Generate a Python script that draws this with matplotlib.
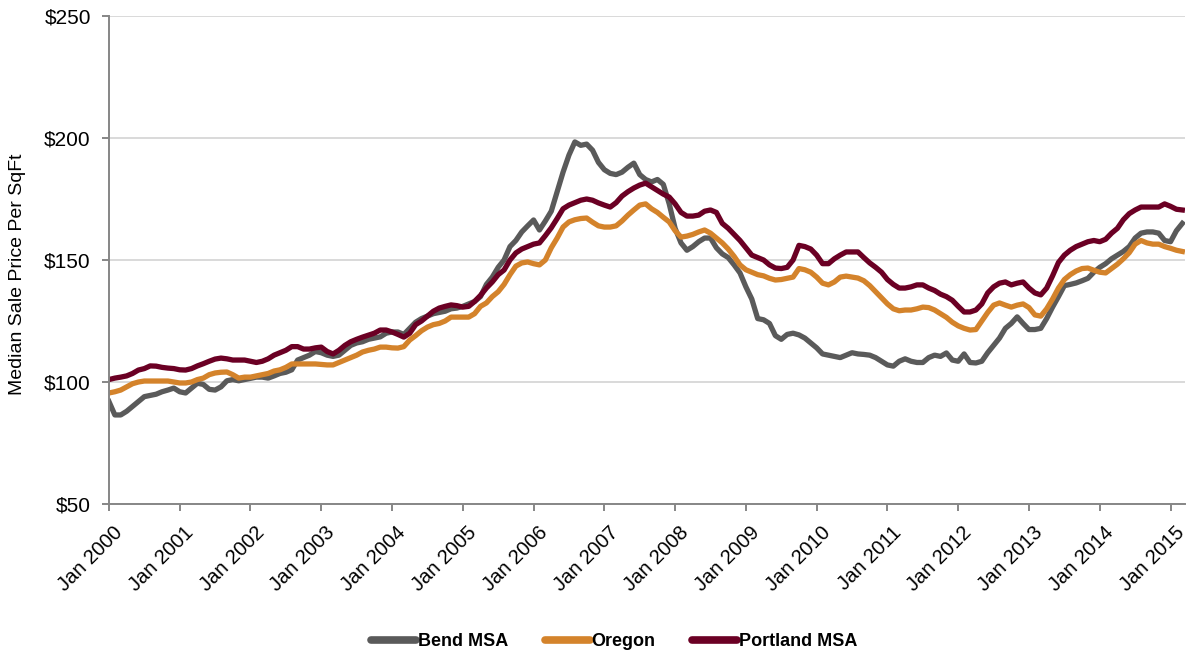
import numpy as np
import matplotlib
matplotlib.use("Agg")
import matplotlib.pyplot as plt
import matplotlib.transforms as mtransforms

# monthly median sale price per sq ft, Jan 2000 - Mar 2015
bend = [
    92, 86.5, 86.5, 88, 90, 92, 94, 94.5, 95, 96, 96.7, 97.5,
    96, 95.5, 97.5, 99.5, 99, 97, 96.7, 98, 100.5, 101, 100.5, 101,
    101.5, 102, 102, 101.6, 102.5, 103.5, 104, 105, 109, 110, 111, 112.5,
    112, 111, 110.5, 111, 113, 115, 116, 116.5, 117.5, 118, 118.5, 120,
    120.5, 120.5, 119.5, 122, 124.5, 126, 127, 128, 128.5, 129, 130, 130.3,
    131, 132, 133, 135, 140, 143, 147, 150, 155.5, 158, 161.5, 164,
    166.4, 162.3, 166, 170, 178, 186, 193, 198.4, 197, 197.5, 195, 190,
    187, 185.5, 185, 186, 188, 189.7, 185, 183, 182, 183, 181, 173,
    163, 157, 154, 155.5, 157.5, 159, 159, 155, 152.5, 151, 148, 144.7,
    139, 134, 126, 125.5, 124, 119, 117.5, 119.5, 120, 119.3, 118, 116,
    114, 111.5, 111, 110.5, 110, 111, 112, 111.5, 111.3, 111, 110, 108.5,
    107, 106.5, 108.5, 109.5, 108.5, 108, 108, 110, 111, 110.5, 111.9, 109,
    108.5, 111.5, 108, 107.8, 108.5, 112, 115, 118, 122, 124, 126.7, 124,
    121.5, 121.5, 122, 126, 130.7, 135, 139.5, 140, 140.6, 141.5, 142.5, 145,
    147, 148.5, 150.5, 152, 153.5, 155.5, 159, 161, 161.5, 161.5, 161, 158,
    157.5, 162, 165,
]
oregon = [
    95.5, 96, 96.7, 98, 99.3, 100, 100.4, 100.4, 100.4, 100.4, 100.4, 100,
    99.6, 99.6, 100, 101, 101.6, 103, 103.7, 104, 104.1, 103, 101.6, 102,
    102, 102.5, 103, 103.5, 104.5, 105, 106, 107.4, 107.4, 107.4, 107.4, 107.4,
    107.2, 107, 107, 108, 109, 110, 111, 112.3, 113, 113.5, 114.3, 114.3,
    114, 113.9, 114.5, 117.2, 119, 121, 122.5, 123.5, 124, 125, 126.6, 126.6,
    126.6, 126.6, 128, 131, 132.4, 135, 137, 140, 144, 147.5, 148.8, 149.2,
    148.5, 148, 150, 155, 159, 163.5, 165.6, 166.5, 167, 167.2, 165.5, 164,
    163.5, 163.5, 164, 166, 168.4, 170.5, 172.5, 173, 171, 169.5, 167.5, 165.6,
    162, 159.4, 159.8, 160.5, 161.5, 162.3, 161, 159, 157, 154.5, 151.5, 148,
    146, 145, 144, 143.5, 142.5, 141.8, 142, 142.5, 143, 146.5, 146, 145,
    143, 140.5, 139.8, 141, 143, 143.4, 143, 142.6, 141.5, 139.5, 137, 134.5,
    132, 130, 129.2, 129.5, 129.5, 130, 130.7, 130.5, 129.5, 128, 126.5, 124.5,
    123, 122, 121.3, 121.5, 125, 128.5, 131.5, 132.4, 131.5, 130.7, 131.5, 132,
    130.5, 127.5, 127, 130, 134, 138.5, 142, 144, 145.5, 146.5, 146.7, 145.8,
    145, 144.7, 146.5, 148.3, 150.5, 153, 156.5, 158, 157, 156.5, 156.5, 155.5,
    154.8, 154, 153.5,
]
portland = [
    101, 101.6, 102, 102.5, 103.5, 104.9, 105.5, 106.6, 106.5, 106, 105.7, 105.5,
    105, 104.9, 105.5, 106.6, 107.5, 108.5, 109.4, 109.8, 109.5, 109, 109, 109,
    108.5, 108, 108.5, 109.5, 111, 112, 113, 114.5, 114.5, 113.5, 113.5, 114,
    114.3, 112.5, 111.5, 113, 115, 116.5, 117.5, 118.4, 119.2, 120, 121.3, 121.3,
    120.5, 119.5, 118.4, 120, 123.5, 125, 127, 129, 130.3, 131, 131.6, 131.3,
    130.7, 131, 133, 135.5, 138.5, 141, 144, 145.9, 150, 152.9, 154.5, 155.5,
    156.5, 157, 160, 163.2, 167, 171, 172.5, 173.5, 174.5, 175, 174.5, 173.4,
    172.5, 171.7, 173.5, 176.2, 178, 179.5, 180.7, 181.5, 180, 178.5, 177, 175.8,
    173, 169.5, 168, 168, 168.4, 170, 170.5, 169.5, 165, 163, 160.5, 158,
    155, 152, 151, 150, 148, 146.7, 146.5, 147, 150, 156, 155.5, 154.5,
    152, 148.5, 148.5, 150.5, 152, 153.3, 153.3, 153.3, 151, 148.8, 147, 145,
    142, 140, 138.5, 138.5, 139, 139.8, 139.8, 138.5, 137.5, 136, 135, 133.5,
    131, 128.7, 128.7, 129.5, 132, 136.5, 139, 140.5, 141, 139.8, 140.5, 141,
    138.5, 136.5, 135.7, 138.5, 143.5, 149, 152, 154, 155.5, 156.5, 157.5, 158,
    157.5, 158.5, 161, 163, 166.5, 169, 170.5, 171.7, 171.7, 171.7, 171.7, 173,
    172, 170.8, 170.5,
]
series_names = ["Bend MSA", "Oregon", "Portland MSA"]
years = list(range(2000, 2016))
tick_labels = ["Jan %d" % y for y in years]
y_ticks = [50, 100, 150, 200, 250]

colors = ["#5a5a5a", "#d4832b", "#6b0024"]

plt.rcParams["font.family"] = ["Liberation Sans", "DejaVu Sans"]

fig = plt.figure(figsize=(11.88, 6.56), dpi=100)
ax = fig.add_axes([0.0917, 0.2317, 0.906, 0.7439])

x = np.arange(len(bend))
for vals, name, c in zip([bend, oregon, portland], series_names, colors):
    ax.plot(x, vals, color=c, lw=3.8, label=name, solid_joinstyle="round")

ax.set_xlim(0, len(bend) - 0.5)
ax.set_ylim(50, 250)
ax.set_yticks(y_ticks)
ax.set_yticklabels(["$%d" % v for v in y_ticks], fontsize=15)
ax.set_xticks([12 * i for i in range(len(years))])
ax.set_xticklabels(tick_labels, rotation=45, ha="right", rotation_mode="anchor",
                   fontsize=14.5)

ax.yaxis.grid(True, color="#d9d9d9", lw=1.4)
ax.set_axisbelow(True)
for s in ["top", "right"]:
    ax.spines[s].set_visible(False)
for s in ["left", "bottom"]:
    ax.spines[s].set_color("#868686")
    ax.spines[s].set_linewidth(1.4)
ax.tick_params(axis="both", color="#868686", length=5, width=1.4, colors="black")
ax.tick_params(axis="x", pad=5)
ax.tick_params(axis="y", pad=8)

# shift rotated labels so their end sits just right of / below the tick
shift = mtransforms.ScaledTranslation(0.04, -0.05, fig.dpi_scale_trans)
for lab in ax.get_xticklabels():
    lab.set_transform(lab.get_transform() + shift)

ax.set_ylabel("Median Sale Price Per SqFt", fontsize=14)
ax.yaxis.set_label_coords(-0.077, 0.47)

leg = fig.legend(loc="center", bbox_to_anchor=(0.517, 0.022), ncol=3,
                 frameon=False, handlelength=2.5, handletextpad=0.1,
                 columnspacing=2.0, prop={"weight": "bold", "size": 13})
for line in leg.get_lines():
    line.set_linewidth(5.5)
    line.set_solid_capstyle("round")

fig.savefig("out.png", dpi=100)
